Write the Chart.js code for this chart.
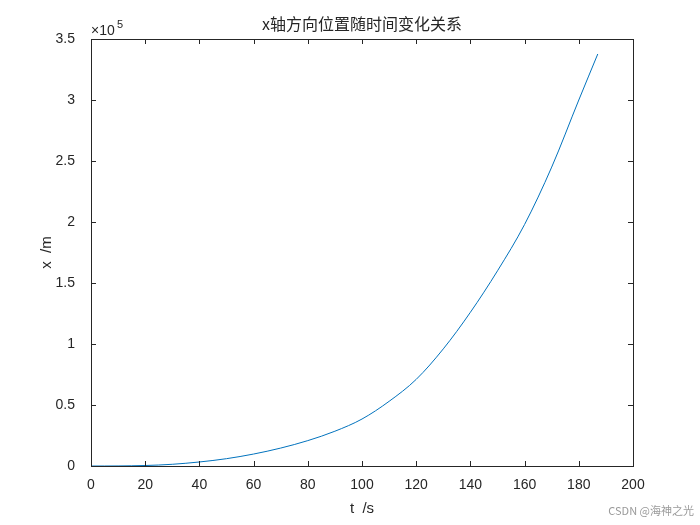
<!DOCTYPE html>
<html><head><meta charset="utf-8">
<script src="https://cdn.jsdelivr.net/npm/chart.js@4"></script>
<style>html,body{margin:0;padding:0;background:#fff}#c{display:block}</style>
</head><body>
<div style="width:700px;height:525px"><canvas id="c"></canvas></div>
<script>
const tValues = [0, 5, 10, 20, 30, 40, 50, 60, 70, 80, 90, 100, 110, 120, 130, 140, 150, 160, 170, 180, 187];
const xValues = [0, 0, 50, 400, 1400, 3300, 6000, 9800, 14700, 20800, 28500, 38500, 53000, 71000, 96000, 126000, 160000, 198000, 245000, 300000, 337700];
const xTicks = [0, 20, 40, 60, 80, 100, 120, 140, 160, 180, 200];
const yTicks = [0, 50000, 100000, 150000, 200000, 250000, 300000, 350000];
const titleText = 'x轴方向位置随时间变化关系';
const xLabel = 't  /s', yLabel = 'x  /m';

const font = '"Liberation Sans", Arial, sans-serif';
const deco = {
  id: 'deco',
  afterDraw(chart) {
    const {ctx, chartArea: a, scales} = chart;
    ctx.save();
    ctx.strokeStyle = '#262626'; ctx.lineWidth = 1;
    ctx.strokeRect(a.left + 0.5, a.top + 0.5, a.right - a.left, a.bottom - a.top);
    ctx.beginPath();
    xTicks.forEach(v => { const p = Math.round(scales.x.getPixelForValue(v)) + 0.5;
      ctx.moveTo(p, a.bottom); ctx.lineTo(p, a.bottom - 5);
      ctx.moveTo(p, a.top); ctx.lineTo(p, a.top + 5); });
    yTicks.forEach(v => { const p = Math.round(scales.y.getPixelForValue(v)) + 0.5;
      ctx.moveTo(a.left, p); ctx.lineTo(a.left + 5, p);
      ctx.moveTo(a.right, p); ctx.lineTo(a.right - 5, p); });
    ctx.stroke();
    ctx.fillStyle = '#262626';
    ctx.textAlign = 'center'; ctx.textBaseline = 'middle';
    ctx.font = '16px "Noto Sans CJK SC", sans-serif';
    ctx.fillText(titleText, (a.left + a.right) / 2, 24);
    ctx.font = '15px ' + font;
    ctx.fillText(xLabel, (a.left + a.right) / 2, 509);
    ctx.save(); ctx.translate(47, (a.top + a.bottom) / 2); ctx.rotate(-Math.PI / 2);
    ctx.fillText(yLabel, 0, 0); ctx.restore();
    ctx.textAlign = 'left';
    ctx.font = '14px ' + font;
    ctx.fillText('×10', a.left, 31);
    ctx.font = '11px ' + font;
    ctx.fillText('5', a.left + 26, 25);
    ctx.fillStyle = '#9a9a9a'; ctx.font = '11px "Noto Sans CJK SC", sans-serif';
    ctx.textAlign = 'right';
    ctx.fillText('CSDN @海神之光', 694, 511);
    ctx.restore();
  }
};

new Chart(document.getElementById('c'), {
  type: 'line',
  data: { datasets: [{ data: tValues.map((t, i) => ({x: t, y: xValues[i]})),
    borderColor: '#0072BD', borderWidth: 1, pointRadius: 0, cubicInterpolationMode: 'monotone', fill: false }] },
  options: {
    responsive: true, maintainAspectRatio: false, animation: false,
    layout: { padding: { left: 0, top: 39, right: 67, bottom: 0 } },
    plugins: { legend: { display: false }, tooltip: { enabled: false } },
    scales: {
      x: { type: 'linear', min: 0, max: 200,
        afterFit(s) { s.height = 59; },
        afterBuildTicks(s) { s.ticks = xTicks.map(v => ({value: v})); },
        grid: { display: false }, border: { display: false },
        ticks: { color: '#262626', font: { size: 14, family: font }, padding: 3, maxRotation: 0 } },
      y: { min: 0, max: 350000,
        afterFit(s) { s.width = 91; },
        afterBuildTicks(s) { s.ticks = yTicks.map(v => ({value: v})); },
        grid: { display: false }, border: { display: false },
        ticks: { color: '#262626', font: { size: 14, family: font }, padding: 8,
          callback: v => String(v / 100000) } }
    }
  },
  plugins: [deco]
});
</script>
</body></html>
